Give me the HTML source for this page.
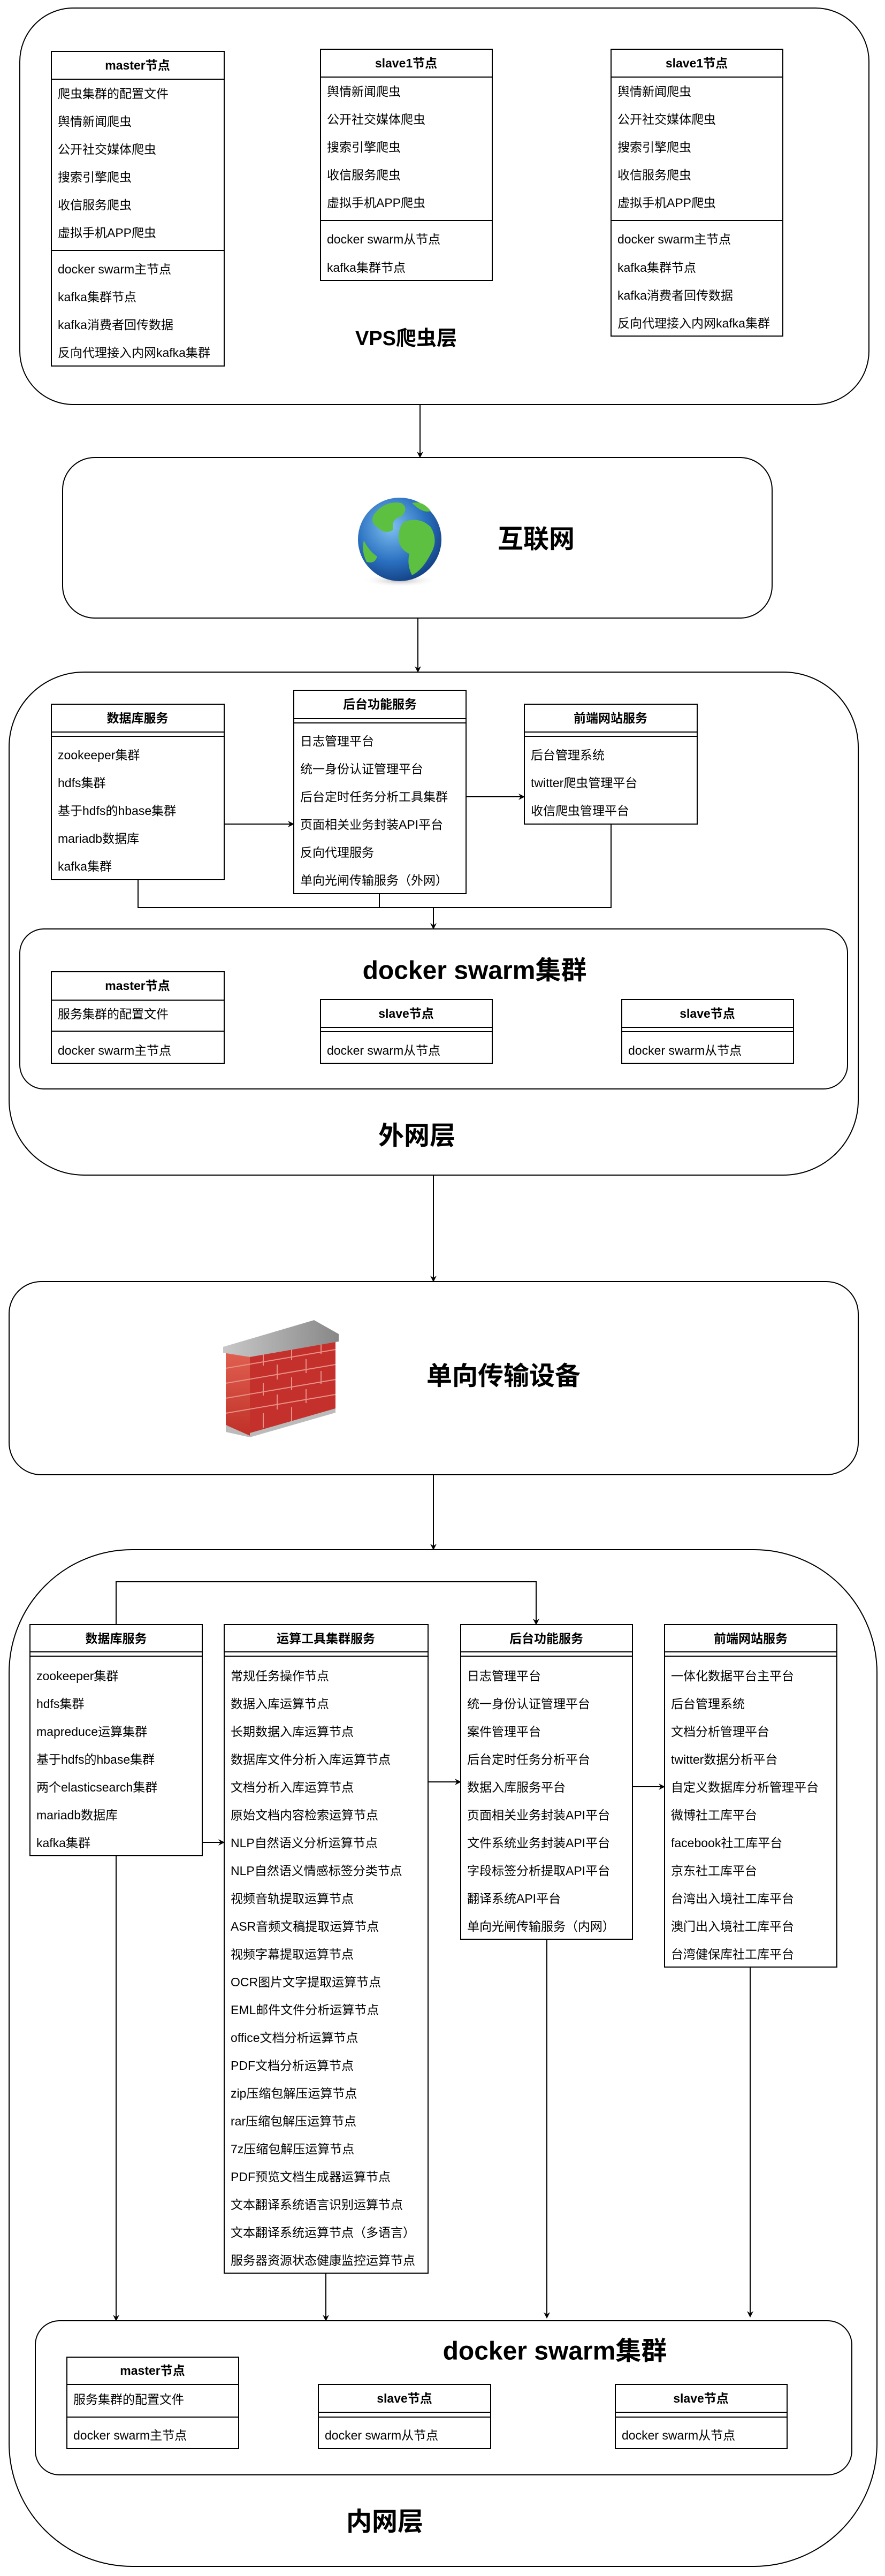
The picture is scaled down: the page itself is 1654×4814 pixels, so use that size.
<!DOCTYPE html>
<html><head><meta charset="utf-8"><style>
html,body{margin:0;padding:0;background:#fff;}
svg{display:block;}
text{font-family:"Liberation Sans","Noto Sans CJK SC",sans-serif;fill:#000;}
.it{font-size:23px;dominant-baseline:central;}
.hd{font-size:23px;font-weight:bold;text-anchor:middle;dominant-baseline:central;}
.big{font-size:48px;font-weight:bold;text-anchor:middle;dominant-baseline:central;}
.b{fill:#fff;stroke:#000;stroke-width:2;}
.l{stroke:#000;stroke-width:2;fill:none;}
</style></head><body>
<svg width="1654" height="4814" viewBox="0 0 1654 4814" xmlns="http://www.w3.org/2000/svg">
<defs>
<marker id="ar" markerWidth="12" markerHeight="12" refX="10" refY="6" orient="auto" markerUnits="userSpaceOnUse">
<path d="M0,0 L12,6 L0,12 L4,6 Z" fill="#000"/></marker>
<radialGradient id="gl" cx="0.4" cy="0.35" r="0.7"><stop offset="0" stop-color="#7fc0f0"/><stop offset="0.6" stop-color="#2a70c0"/><stop offset="1" stop-color="#123e80"/></radialGradient>
<radialGradient id="sh" cx="0.5" cy="0.5" r="0.5"><stop offset="0" stop-color="#888" stop-opacity="0.6"/><stop offset="1" stop-color="#fff" stop-opacity="0"/></radialGradient>
<linearGradient id="cap" x1="0" y1="0" x2="1" y2="0"><stop offset="0" stop-color="#c8c8c8"/><stop offset="0.5" stop-color="#a8a8a8"/><stop offset="1" stop-color="#888"/></linearGradient>
<linearGradient id="side" x1="0" y1="0" x2="0" y2="1"><stop offset="0" stop-color="#e06050"/><stop offset="1" stop-color="#c03028"/></linearGradient>
</defs>

<!-- VPS layer -->
<rect class="b" x="37" y="15" width="1587" height="741" rx="100"/>
<rect class="b" x="96" y="96" width="323" height="588"/>
<line class="l" x1="96" y1="148" x2="419" y2="148"/><line class="l" x1="96" y1="468" x2="419" y2="468"/>
<text class="hd" x="257" y="122">master节点</text>
<text class="it" x="108" y="175">爬虫集群的配置文件</text>
<text class="it" x="108" y="227">舆情新闻爬虫</text>
<text class="it" x="108" y="279">公开社交媒体爬虫</text>
<text class="it" x="108" y="331">搜索引擎爬虫</text>
<text class="it" x="108" y="383">收信服务爬虫</text>
<text class="it" x="108" y="435">虚拟手机APP爬虫</text>
<text class="it" x="108" y="503">docker swarm主节点</text>
<text class="it" x="108" y="555">kafka集群节点</text>
<text class="it" x="108" y="607">kafka消费者回传数据</text>
<text class="it" x="108" y="659">反向代理接入内网kafka集群</text>

<rect class="b" x="599" y="92" width="321" height="432"/>
<line class="l" x1="599" y1="144" x2="920" y2="144"/><line class="l" x1="599" y1="412" x2="920" y2="412"/>
<text class="hd" x="759" y="118">slave1节点</text>
<text class="it" x="611" y="171">舆情新闻爬虫</text>
<text class="it" x="611" y="223">公开社交媒体爬虫</text>
<text class="it" x="611" y="275">搜索引擎爬虫</text>
<text class="it" x="611" y="327">收信服务爬虫</text>
<text class="it" x="611" y="379">虚拟手机APP爬虫</text>
<text class="it" x="611" y="447">docker swarm从节点</text>
<text class="it" x="611" y="500">kafka集群节点</text>

<rect class="b" x="1142" y="92" width="321" height="536"/>
<line class="l" x1="1142" y1="144" x2="1463" y2="144"/><line class="l" x1="1142" y1="412" x2="1463" y2="412"/>
<text class="hd" x="1302" y="118">slave1节点</text>
<text class="it" x="1154" y="171">舆情新闻爬虫</text>
<text class="it" x="1154" y="223">公开社交媒体爬虫</text>
<text class="it" x="1154" y="275">搜索引擎爬虫</text>
<text class="it" x="1154" y="327">收信服务爬虫</text>
<text class="it" x="1154" y="379">虚拟手机APP爬虫</text>
<text class="it" x="1154" y="447">docker swarm主节点</text>
<text class="it" x="1154" y="500">kafka集群节点</text>
<text class="it" x="1154" y="552">kafka消费者回传数据</text>
<text class="it" x="1154" y="604">反向代理接入内网kafka集群</text>
<text class="big" x="759" y="633" style="font-size:38px">VPS爬虫层</text>
<line class="l" x1="785" y1="756" x2="785" y2="854" marker-end="url(#ar)"/>

<!-- Internet -->
<rect class="b" x="117" y="855" width="1326" height="300" rx="60"/>
<ellipse cx="747" cy="1085" rx="70" ry="12" fill="url(#sh)"/>
<circle cx="747" cy="1008" r="78" fill="url(#gl)"/>
<path d="M700,960 q20,-25 50,-20 q15,10 0,25 q-20,5 -15,25 q-15,10 -30,-5 q-15,-10 -5,-25z" fill="#5ec040"/>
<path d="M755,975 q30,-10 50,10 q15,25 0,50 q-15,30 -35,40 q-10,-20 -5,-40 q-20,-10 -20,-30 q0,-20 10,-30z" fill="#5ec040"/>
<path d="M770,940 q20,-5 35,15 q-15,5 -35,-15z" fill="#5ec040"/>
<path d="M680,1010 q10,20 25,30 q-5,15 -20,10 q-10,-20 -5,-40z" fill="#5ec040"/>
<text class="big" x="1002" y="1008">互联网</text>
<line class="l" x1="781" y1="1155" x2="781" y2="1255" marker-end="url(#ar)"/>

<!-- 外网层 -->
<rect class="b" x="17" y="1256" width="1587" height="940" rx="140"/>
<rect class="b" x="96" y="1316" width="323" height="328"/>
<line class="l" x1="96" y1="1368" x2="419" y2="1368"/><line class="l" x1="96" y1="1376" x2="419" y2="1376"/>
<text class="hd" x="257" y="1342">数据库服务</text>
<text class="it" x="108" y="1411">zookeeper集群</text>
<text class="it" x="108" y="1463">hdfs集群</text>
<text class="it" x="108" y="1515">基于hdfs的hbase集群</text>
<text class="it" x="108" y="1567">mariadb数据库</text>
<text class="it" x="108" y="1619">kafka集群</text>

<rect class="b" x="549" y="1290" width="322" height="380"/>
<line class="l" x1="549" y1="1343" x2="871" y2="1343"/><line class="l" x1="549" y1="1351" x2="871" y2="1351"/>
<text class="hd" x="710" y="1316">后台功能服务</text>
<text class="it" x="561" y="1385">日志管理平台</text>
<text class="it" x="561" y="1437">统一身份认证管理平台</text>
<text class="it" x="561" y="1489">后台定时任务分析工具集群</text>
<text class="it" x="561" y="1541">页面相关业务封装API平台</text>
<text class="it" x="561" y="1593">反向代理服务</text>
<text class="it" x="561" y="1645">单向光闸传输服务（外网）</text>

<rect class="b" x="980" y="1316" width="323" height="224"/>
<line class="l" x1="980" y1="1368" x2="1303" y2="1368"/><line class="l" x1="980" y1="1376" x2="1303" y2="1376"/>
<text class="hd" x="1141" y="1342">前端网站服务</text>
<text class="it" x="992" y="1411">后台管理系统</text>
<text class="it" x="992" y="1463">twitter爬虫管理平台</text>
<text class="it" x="992" y="1515">收信爬虫管理平台</text>

<line class="l" x1="419" y1="1540" x2="548" y2="1540" marker-end="url(#ar)"/>
<line class="l" x1="871" y1="1489" x2="979" y2="1489" marker-end="url(#ar)"/>
<polyline class="l" points="258,1644 258,1696 1142,1696 1142,1540"/>
<line class="l" x1="709" y1="1670" x2="709" y2="1696"/>
<line class="l" x1="810" y1="1696" x2="810" y2="1735" marker-end="url(#ar)"/>

<rect class="b" x="37" y="1736" width="1547" height="299" rx="45"/>
<text class="big" x="887" y="1814">docker swarm集群</text>
<rect class="b" x="96" y="1816" width="323" height="171"/>
<line class="l" x1="96" y1="1869" x2="419" y2="1869"/><line class="l" x1="96" y1="1927" x2="419" y2="1927"/>
<text class="hd" x="257" y="1842">master节点</text>
<text class="it" x="108" y="1895">服务集群的配置文件</text>
<text class="it" x="108" y="1963">docker swarm主节点</text>
<rect class="b" x="599" y="1868" width="321" height="119"/>
<line class="l" x1="599" y1="1920" x2="920" y2="1920"/><line class="l" x1="599" y1="1928" x2="920" y2="1928"/>
<text class="hd" x="759" y="1894">slave节点</text>
<text class="it" x="611" y="1963">docker swarm从节点</text>
<rect class="b" x="1162" y="1868" width="321" height="119"/>
<line class="l" x1="1162" y1="1920" x2="1483" y2="1920"/><line class="l" x1="1162" y1="1928" x2="1483" y2="1928"/>
<text class="hd" x="1322" y="1894">slave节点</text>
<text class="it" x="1174" y="1963">docker swarm从节点</text>
<text class="big" x="779" y="2123">外网层</text>
<line class="l" x1="810" y1="2196" x2="810" y2="2394" marker-end="url(#ar)"/>

<!-- 单向传输设备 -->
<rect class="b" x="17" y="2395" width="1587" height="361" rx="60"/>
<polygon points="467,2670 627,2628 627,2640 467,2686 422,2676 422,2664" fill="#bbb"/>
<polygon points="422,2527 467,2533 467,2683 422,2663" fill="url(#side)"/>
<polygon points="467,2533 627,2500 627,2632 467,2678" fill="#c4302b"/>
<g stroke="#e89088" stroke-width="2">
<line x1="422" y1="2557" x2="627" y2="2522"/><line x1="422" y1="2585" x2="627" y2="2550"/>
<line x1="422" y1="2613" x2="627" y2="2578"/><line x1="422" y1="2641" x2="627" y2="2606"/>
<line x1="492" y1="2528" x2="492" y2="2552"/><line x1="545" y1="2518" x2="545" y2="2542"/><line x1="600" y1="2506" x2="600" y2="2530"/>
<line x1="518" y1="2550" x2="518" y2="2578"/><line x1="572" y1="2540" x2="572" y2="2566"/>
<line x1="492" y1="2585" x2="492" y2="2608"/><line x1="545" y1="2574" x2="545" y2="2598"/><line x1="600" y1="2562" x2="600" y2="2586"/>
<line x1="518" y1="2606" x2="518" y2="2634"/><line x1="572" y1="2596" x2="572" y2="2622"/>
<line x1="492" y1="2641" x2="492" y2="2668"/><line x1="545" y1="2630" x2="545" y2="2655"/>
</g>
<polygon points="417,2517 587,2467 633,2493 633,2507 467,2536 417,2528" fill="url(#cap)"/>
<text class="big" x="941" y="2572">单向传输设备</text>
<line class="l" x1="810" y1="2756" x2="810" y2="2895" marker-end="url(#ar)"/>

<!-- 内网层 -->
<rect class="b" x="17" y="2896" width="1622" height="1900" rx="230"/>
<polyline class="l" points="217,3036 217,2956 1002,2956 1002,3035" marker-end="url(#ar)"/>

<rect class="b" x="56" y="3036" width="322" height="432"/>
<line class="l" x1="56" y1="3087" x2="378" y2="3087"/><line class="l" x1="56" y1="3095" x2="378" y2="3095"/>
<text class="hd" x="217" y="3062">数据库服务</text>
<g class="it">
<text class="it" x="68" y="3132">zookeeper集群</text>
<text class="it" x="68" y="3184">hdfs集群</text>
<text class="it" x="68" y="3236">mapreduce运算集群</text>
<text class="it" x="68" y="3288">基于hdfs的hbase集群</text>
<text class="it" x="68" y="3340">两个elasticsearch集群</text>
<text class="it" x="68" y="3392">mariadb数据库</text>
<text class="it" x="68" y="3444">kafka集群</text>
</g>

<rect class="b" x="419" y="3036" width="381" height="1212"/>
<line class="l" x1="419" y1="3087" x2="800" y2="3087"/><line class="l" x1="419" y1="3095" x2="800" y2="3095"/>
<text class="hd" x="609" y="3062">运算工具集群服务</text>
<text class="it" x="431" y="3132">常规任务操作节点</text>
<text class="it" x="431" y="3184">数据入库运算节点</text>
<text class="it" x="431" y="3236">长期数据入库运算节点</text>
<text class="it" x="431" y="3288">数据库文件分析入库运算节点</text>
<text class="it" x="431" y="3340">文档分析入库运算节点</text>
<text class="it" x="431" y="3392">原始文档内容检索运算节点</text>
<text class="it" x="431" y="3444">NLP自然语义分析运算节点</text>
<text class="it" x="431" y="3496">NLP自然语义情感标签分类节点</text>
<text class="it" x="431" y="3548">视频音轨提取运算节点</text>
<text class="it" x="431" y="3600">ASR音频文稿提取运算节点</text>
<text class="it" x="431" y="3652">视频字幕提取运算节点</text>
<text class="it" x="431" y="3704">OCR图片文字提取运算节点</text>
<text class="it" x="431" y="3756">EML邮件文件分析运算节点</text>
<text class="it" x="431" y="3808">office文档分析运算节点</text>
<text class="it" x="431" y="3860">PDF文档分析运算节点</text>
<text class="it" x="431" y="3912">zip压缩包解压运算节点</text>
<text class="it" x="431" y="3964">rar压缩包解压运算节点</text>
<text class="it" x="431" y="4016">7z压缩包解压运算节点</text>
<text class="it" x="431" y="4068">PDF预览文档生成器运算节点</text>
<text class="it" x="431" y="4120">文本翻译系统语言识别运算节点</text>
<text class="it" x="431" y="4172">文本翻译系统运算节点（多语言）</text>
<text class="it" x="431" y="4224">服务器资源状态健康监控运算节点</text>

<rect class="b" x="861" y="3036" width="321" height="588"/>
<line class="l" x1="861" y1="3087" x2="1182" y2="3087"/><line class="l" x1="861" y1="3095" x2="1182" y2="3095"/>
<text class="hd" x="1021" y="3062">后台功能服务</text>
<text class="it" x="873" y="3132">日志管理平台</text>
<text class="it" x="873" y="3184">统一身份认证管理平台</text>
<text class="it" x="873" y="3236">案件管理平台</text>
<text class="it" x="873" y="3288">后台定时任务分析平台</text>
<text class="it" x="873" y="3340">数据入库服务平台</text>
<text class="it" x="873" y="3392">页面相关业务封装API平台</text>
<text class="it" x="873" y="3444">文件系统业务封装API平台</text>
<text class="it" x="873" y="3496">字段标签分析提取API平台</text>
<text class="it" x="873" y="3548">翻译系统API平台</text>
<text class="it" x="873" y="3600">单向光闸传输服务（内网）</text>

<rect class="b" x="1242" y="3036" width="322" height="640"/>
<line class="l" x1="1242" y1="3087" x2="1564" y2="3087"/><line class="l" x1="1242" y1="3095" x2="1564" y2="3095"/>
<text class="hd" x="1403" y="3062">前端网站服务</text>
<text class="it" x="1254" y="3132">一体化数据平台主平台</text>
<text class="it" x="1254" y="3184">后台管理系统</text>
<text class="it" x="1254" y="3236">文档分析管理平台</text>
<text class="it" x="1254" y="3288">twitter数据分析平台</text>
<text class="it" x="1254" y="3340">自定义数据库分析管理平台</text>
<text class="it" x="1254" y="3392">微博社工库平台</text>
<text class="it" x="1254" y="3444">facebook社工库平台</text>
<text class="it" x="1254" y="3496">京东社工库平台</text>
<text class="it" x="1254" y="3548">台湾出入境社工库平台</text>
<text class="it" x="1254" y="3600">澳门出入境社工库平台</text>
<text class="it" x="1254" y="3652">台湾健保库社工库平台</text>

<line class="l" x1="378" y1="3443" x2="418" y2="3443" marker-end="url(#ar)"/>
<line class="l" x1="800" y1="3330" x2="860" y2="3330" marker-end="url(#ar)"/>
<line class="l" x1="1182" y1="3339" x2="1241" y2="3339" marker-end="url(#ar)"/>
<line class="l" x1="217" y1="3468" x2="217" y2="4336" marker-end="url(#ar)"/>
<line class="l" x1="609" y1="4248" x2="609" y2="4336" marker-end="url(#ar)"/>
<line class="l" x1="1022" y1="3624" x2="1022" y2="4331" marker-end="url(#ar)"/>
<line class="l" x1="1402" y1="3676" x2="1402" y2="4329" marker-end="url(#ar)"/>

<rect class="b" x="66" y="4337" width="1526" height="288" rx="45"/>
<text class="big" x="1037" y="4394">docker swarm集群</text>
<rect class="b" x="125" y="4405" width="321" height="171"/>
<line class="l" x1="125" y1="4456" x2="446" y2="4456"/><line class="l" x1="125" y1="4517" x2="446" y2="4517"/>
<text class="hd" x="285" y="4430">master节点</text>
<text class="it" x="137" y="4484">服务集群的配置文件</text>
<text class="it" x="137" y="4551">docker swarm主节点</text>
<rect class="b" x="595" y="4456" width="322" height="120"/>
<line class="l" x1="595" y1="4508" x2="917" y2="4508"/><line class="l" x1="595" y1="4517" x2="917" y2="4517"/>
<text class="hd" x="756" y="4482">slave节点</text>
<text class="it" x="607" y="4551">docker swarm从节点</text>
<rect class="b" x="1150" y="4456" width="321" height="120"/>
<line class="l" x1="1150" y1="4508" x2="1471" y2="4508"/><line class="l" x1="1150" y1="4517" x2="1471" y2="4517"/>
<text class="hd" x="1310" y="4482">slave节点</text>
<text class="it" x="1162" y="4551">docker swarm从节点</text>
<text class="big" x="719" y="4713">内网层</text>
</svg>
</body></html>
